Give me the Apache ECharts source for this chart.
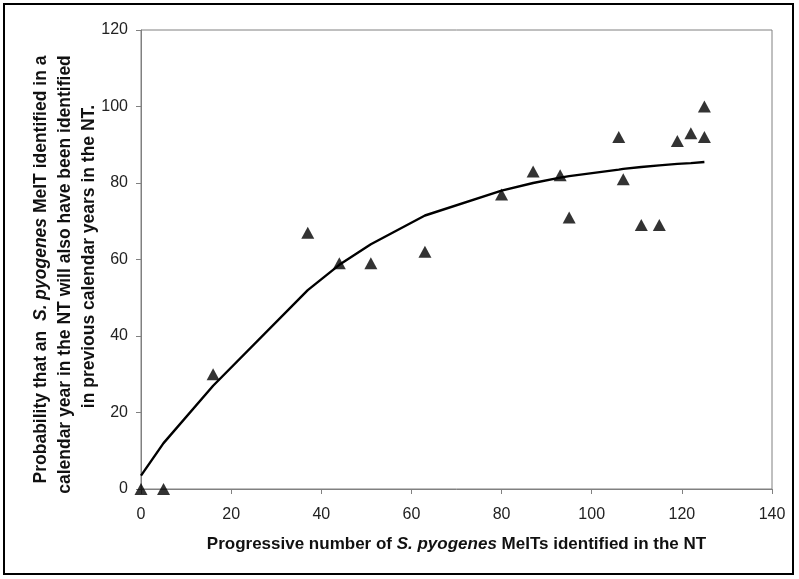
<!DOCTYPE html>
<html>
<head>
<meta charset="utf-8">
<script src="https://cdn.jsdelivr.net/npm/echarts@6/dist/echarts.min.js"></script>
<style>html,body{margin:0;padding:0;background:#fff;}#c{width:799px;height:579px;}</style>
</head>
<body>
<div id="c"></div>
<script>
// Observed data points (x = progressive number of MeITs, y = probability %)
var obsX = [0, 5, 16, 37, 44, 51, 63, 80, 87, 93, 95, 106, 107, 111, 115, 119, 122, 125, 125];
var obsY = [0, 0, 30, 67, 59, 59, 62, 77, 83, 82, 71, 92, 81, 69, 69, 91, 93, 100, 92];
// Fitted curve
var fitX = [0, 5, 16, 37, 44, 51, 63, 80, 87, 93, 95, 106, 107, 111, 115, 119, 122, 125];
var fitY = [3.5, 12, 27, 52, 58.6, 64, 71.5, 78, 80, 81.4, 81.8, 83.5, 83.7, 84.2, 84.6, 85, 85.2, 85.5];
var xTicks = [0, 20, 40, 60, 80, 100, 120, 140];
var yTicks = [0, 20, 40, 60, 80, 100, 120];

var chart = echarts.init(document.getElementById('c'), null, {renderer: 'canvas'});
var FONT = '"Liberation Sans", Arial, sans-serif';
var TF = 17;
var YF = 17.5;
var axisCommon = {
  axisLine: {show: true, lineStyle: {color: '#808080', width: 1}},
  axisTick: {show: true, inside: false, length: 5, lineStyle: {color: '#808080'}},
  splitLine: {show: false}
};
function yStyle(extra) {
  return Object.assign({fontFamily: FONT, fontSize: YF, fontWeight: 'bold', color: '#111', lineHeight: 24}, extra || {});
}
chart.setOption({
  animation: false,
  backgroundColor: '#fff',
  grid: {left: 141, right: 27, top: 30, bottom: 90, show: true, borderColor: '#808080', borderWidth: 1},
  graphic: [{
    type: 'rect', shape: {x: 4, y: 4, width: 789, height: 570},
    style: {fill: 'none', stroke: '#000', lineWidth: 2}, silent: true
  }],
  xAxis: Object.assign({
    type: 'value', min: xTicks[0], max: xTicks[xTicks.length - 1], interval: 20,
    nameLocation: 'middle', nameGap: 47, nameMoveOverlap: false,
    name: '{b|Progressive number of }{bi|S. pyogenes}{b| MeITs identified in the NT}',
    nameTextStyle: {
      rich: {
        b: {fontFamily: FONT, fontSize: TF, fontWeight: 'bold', color: '#111'},
        bi: {fontFamily: FONT, fontSize: TF, fontWeight: 'bold', fontStyle: 'italic', color: '#111'}
      }
    }
  }, axisCommon, {axisLabel: {color: '#222', fontFamily: FONT, fontSize: 16, margin: 18}}),
  yAxis: Object.assign({
    type: 'value', min: yTicks[0], max: yTicks[yTicks.length - 1], interval: 20,
    nameLocation: 'middle', nameRotate: 90, nameGap: 39.5, nameMoveOverlap: false,
    name: '{b|Probability that an  }{bi|S. pyogenes}{b| MeIT identified in a}\n{b2|calendar year in the NT will also have been identified}\n{b3|in previous calendar years in the NT.}',
    nameTextStyle: {
      align: 'center',
      lineHeight: 24,
      padding: [0, 20, 0, 0],
      rich: {
        b: yStyle(),
        bi: yStyle({fontStyle: 'italic'}),
        b2: yStyle({padding: [0, 10, 0, 0]}),
        b3: yStyle({padding: [0, 0, 0, 26]})
      }
    }
  }, axisCommon, {axisLabel: {color: '#222', fontFamily: FONT, fontSize: 16, margin: 13}}),
  series: [{
    type: 'line',
    data: fitX.map(function (x, i) { return [x, fitY[i]]; }),
    showSymbol: false, symbol: 'none',
    lineStyle: {color: '#000', width: 2.4},
    z: 2
  }, {
    type: 'scatter',
    data: obsX.map(function (x, i) { return [x, obsY[i]]; }),
    symbol: 'triangle', symbolSize: [13, 12],
    itemStyle: {color: '#000'},
    z: 3
  }]
});
</script>
</body>
</html>
